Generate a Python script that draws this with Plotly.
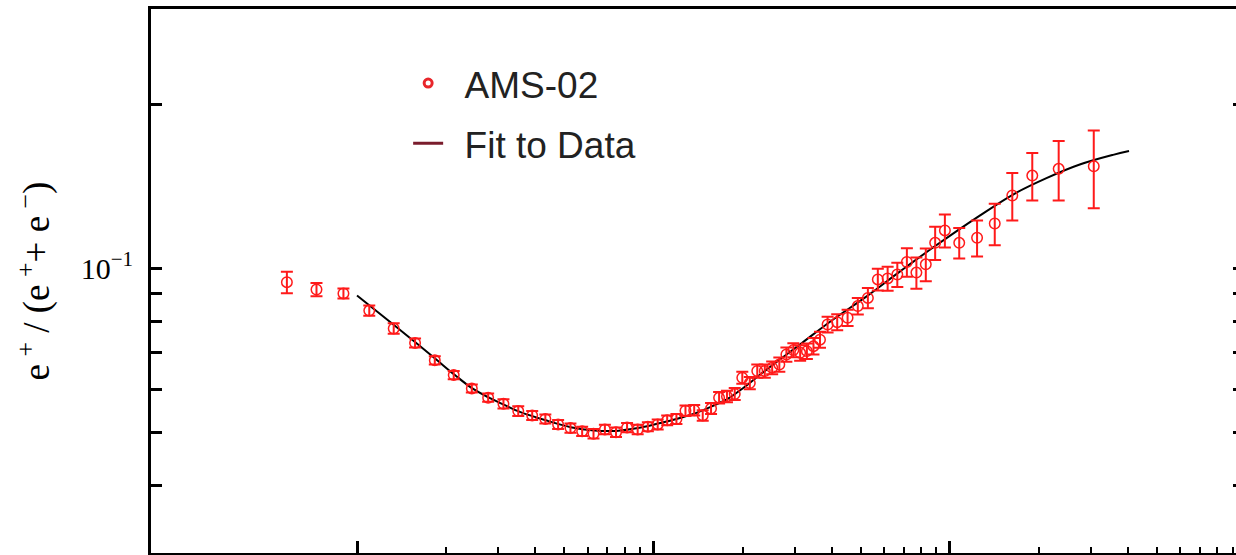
import plotly.graph_objects as go

# AMS-02 positron fraction
energy = [0.58, 0.73, 0.90, 1.10, 1.33, 1.57, 1.83, 2.12, 2.44, 2.77,
          3.12, 3.50, 3.90, 4.32, 4.77, 5.25, 5.75, 6.28, 6.86, 7.48,
          8.15, 8.85, 9.58, 10.34, 11.13, 11.96, 12.83, 13.73, 14.67, 15.65,
          16.66, 17.71, 18.81, 19.95, 21.15, 22.41, 23.76, 25.16, 26.60, 28.10,
          29.66, 31.27, 32.95, 34.68, 36.48, 38.70, 41.70, 45.20, 48.94, 52.92,
          57.17, 61.70, 66.52, 71.65, 77.15, 82.99, 89.25, 96.25, 107.6, 123.6,
          141.8, 162.5, 189.8, 233.0, 306.0]
fraction = [0.0944, 0.0915, 0.0900, 0.0837, 0.0776, 0.0730, 0.0678, 0.0637, 0.0602, 0.0579,
            0.0564, 0.0547, 0.0537, 0.0529, 0.0517, 0.0509, 0.0502, 0.0497, 0.0506, 0.0500,
            0.0510, 0.0506, 0.0512, 0.0517, 0.0526, 0.0529, 0.0548, 0.0549, 0.0537, 0.0553,
            0.0579, 0.0582, 0.0588, 0.0630, 0.0616, 0.0648, 0.0648, 0.0657, 0.0666, 0.0695,
            0.0708, 0.0700, 0.0705, 0.0720, 0.0740, 0.0789, 0.0797, 0.0812, 0.0853, 0.0883,
            0.0955, 0.0959, 0.0975, 0.1028, 0.0983, 0.1018, 0.1115, 0.1175, 0.1115, 0.1139,
            0.1210, 0.1362, 0.1482, 0.1525, 0.1542]
fraction_err = [0.0043, 0.0026, 0.0019, 0.0018, 0.0017, 0.0014, 0.0012, 0.0011, 0.0010, 0.0010,
                0.0011, 0.0011, 0.0010, 0.0010, 0.0010, 0.0010, 0.0010, 0.0010, 0.0010, 0.0010,
                0.0010, 0.0010, 0.0010, 0.0011, 0.0011, 0.0011, 0.0012, 0.0012, 0.0012, 0.0013,
                0.0014, 0.0014, 0.0015, 0.0016, 0.0016, 0.0018, 0.0018, 0.0018, 0.0020, 0.0021,
                0.0021, 0.0023, 0.0023, 0.0025, 0.0025, 0.0026, 0.0027, 0.0028, 0.0030, 0.0038,
                0.0044, 0.0049, 0.0050, 0.0062, 0.0065, 0.0070, 0.0078, 0.0082, 0.0072, 0.0087,
                0.0106, 0.0136, 0.0148, 0.0191, 0.0251]

# Fit curve
fit_energy = [1.0, 1.326, 1.577, 1.847, 2.14, 2.45, 2.787, 3.156, 3.545, 4.33,
              5.26, 6.31, 7.49, 8.866, 10.38, 11.97, 13.73, 15.72, 17.8, 20.0,
              24.09, 31.2, 40.4, 52.4, 67.8, 87.8, 126.2, 163.5, 211.9,
              274.5, 355.5, 402.4]
fit_value = [0.0892, 0.0789, 0.0731, 0.0681, 0.0637, 0.0602, 0.0579, 0.0561, 0.0545, 0.0526,
             0.0511, 0.0504, 0.0503, 0.0509, 0.0519, 0.0529, 0.0541, 0.0558, 0.0576, 0.0602,
             0.0652, 0.0725, 0.0806, 0.0889, 0.0987, 0.1093, 0.1251, 0.1368, 0.1466,
             0.1553, 0.1618, 0.1644]

y_tickvals = [0.04, 0.05, 0.06, 0.07, 0.08, 0.09, 0.1, 0.2]
y_ticktext = ["", "", "", "", "", "", "10<sup>\u22121</sup>", ""]
x_major = [1, 10, 100, 1000]
x_minor = [2, 3, 4, 5, 6, 7, 8, 9, 20, 30, 40, 50, 60, 70, 80, 90,
           200, 300, 400, 500, 600, 700, 800, 900]

RED = "#ff1a1a"
SERIF = "Liberation Serif, Times New Roman, serif"

fig = go.Figure()

fig.add_trace(go.Scatter(
    x=fit_energy, y=fit_value, mode="lines",
    line=dict(color="black", width=2, shape="spline", smoothing=1.0),
    showlegend=False, hoverinfo="skip"))

fig.add_trace(go.Scatter(
    x=energy, y=fraction, mode="markers",
    marker=dict(symbol="circle-open", size=10.5, color=RED, line=dict(width=1.5, color=RED)),
    error_y=dict(type="data", array=fraction_err, visible=True, color=RED,
                 thickness=2, width=6),
    showlegend=False))

# legend entries
fig.add_trace(go.Scatter(
    x=[None], y=[None], mode="markers", name="\u00a0\u2006AMS-02",
    legendgroup="a",
    marker=dict(symbol="circle-open", size=8, color="#e8262b", line=dict(width=3, color="#e8262b"))))
fig.add_trace(go.Scatter(
    x=[None], y=[None], mode="lines", name="\u00a0\u2006Fit to Data",
    legendgroup="b",
    line=dict(color="#7a1c2c", width=3)))

# right-side inward tick stubs
fig.add_trace(go.Scatter(x=[None], y=[None], yaxis="y2", showlegend=False))

fig.update_layout(
    width=1236, height=555,
    margin=dict(l=151, r=0, t=9, b=2),
    paper_bgcolor="white", plot_bgcolor="white",
    showlegend=True,
    legend=dict(
        x=0.237, y=0.92, xanchor="left", yanchor="top",
        bgcolor="rgba(0,0,0,0)", borderwidth=0,
        font=dict(family="Liberation Sans, Arial, sans-serif", size=37, color="#222222"),
        traceorder="grouped", tracegroupgap=9, itemwidth=30),
    xaxis=dict(
        type="log", range=[-0.695, 2.9656],
        showline=True, linecolor="black", linewidth=2.5, mirror=True,
        showgrid=False, zeroline=False,
        tickmode="array", tickvals=x_major, ticks="inside",
        ticklen=12, tickwidth=2.5, tickcolor="black",
        showticklabels=False,
        minor=dict(tickmode="array", tickvals=x_minor, ticks="inside",
                   ticklen=6, tickwidth=2, tickcolor="black", showgrid=False),
    ),
    yaxis=dict(
        type="log", range=[-1.5229, -0.5229],
        showline=True, linecolor="black", linewidth=3, mirror=True,
        showgrid=False, zeroline=False,
        tickmode="array", tickvals=y_tickvals, ticktext=y_ticktext,
        ticks="inside", ticklen=11, tickwidth=2.5, tickcolor="black",
        ticklabelstandoff=9,
        tickfont=dict(family=SERIF, size=30, color="black"),
        title=dict(text="e\u2009<sup>+</sup> / (e\u2009<sup>+</sup>+ e\u2009<sup>\u2212</sup>)",
                   font=dict(family=SERIF, size=37, color="black"),
                   standoff=20),
        automargin=False,
    ),
    yaxis2=dict(
        type="log", range=[-1.5229, -0.5229], overlaying="y", side="right",
        anchor="free", position=1, showline=False, showgrid=False, zeroline=False,
        tickmode="array", tickvals=y_tickvals, ticks="inside", ticklen=3,
        tickwidth=2.5, tickcolor="black", showticklabels=False,
    ),
)

fig.write_html("out.html")
